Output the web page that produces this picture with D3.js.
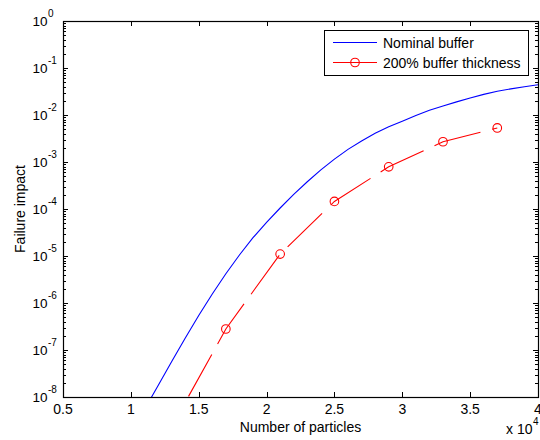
<!DOCTYPE html>
<html>
<head>
<meta charset="utf-8">
<script src="https://cdn.jsdelivr.net/npm/d3@7"></script>
<style>
  html, body { margin: 0; padding: 0; background: #fff; }
  svg { display: block; font-family: "Liberation Sans", Arial, sans-serif; }
</style>
</head>
<body>
<svg id="chart" width="540" height="440"></svg>
<script>
// Failure impact versus number of particles, nominal buffer and 200% buffer.
const nominalParticles = [11000, 12000, 13000, 14000, 15000, 16000, 17000, 18000, 19000, 20000,
  21000, 22000, 23000, 24000, 25000, 26000, 27000, 28000, 29000, 30000,
  31000, 32000, 33000, 34000, 35000, 36000, 37000, 38000, 39000, 40000];
const nominalImpact = [5.4e-9, 1.74e-8, 5.6e-8, 1.78e-7, 5.4e-7, 1.55e-6, 4.2e-6, 1.05e-5, 2.45e-5, 5.2e-5,
  1.05e-4, 2.04e-4, 3.8e-4, 6.8e-4, 1.15e-3, 1.86e-3, 2.8e-3, 4.1e-3, 5.6e-3, 7.4e-3,
  9.8e-3, 1.26e-2, 1.55e-2, 1.9e-2, 2.3e-2, 2.75e-2, 3.2e-2, 3.6e-2, 4.0e-2, 4.4e-2];

const thickParticles = [13000, 17000, 21000, 25000, 29000, 33000, 37000];
const thickImpact = [2.3e-9, 2.8e-7, 1.1e-5, 1.45e-4, 7.9e-4, 2.7e-3, 5.3e-3];

const xTickValues = [5000, 10000, 15000, 20000, 25000, 30000, 35000, 40000];
const xTickLabels = ["0.5", "1", "1.5", "2", "2.5", "3", "3.5", "4"];
const yExponents = [0, -1, -2, -3, -4, -5, -6, -7, -8];
const seriesNames = ["Nominal buffer", "200% buffer thickness"];

const svg = d3.select("#chart");
const plotLeft = 63, plotRight = 538, plotTop = 21, plotBottom = 397;

const x = d3.scaleLinear().domain([5000, 40000]).range([plotLeft, plotRight]);
const y = d3.scaleLog().domain([1e-8, 1]).range([plotBottom, plotTop]);

svg.append("defs").append("clipPath").attr("id", "plotClip")
  .append("rect").attr("x", plotLeft).attr("y", plotTop)
  .attr("width", plotRight - plotLeft).attr("height", plotBottom - plotTop);

// Ticks (inward, on all four sides)
const ticks = svg.append("g").attr("stroke", "#000").attr("stroke-width", 1);
xTickValues.forEach(v => {
  const px = Math.round(x(v)) + 0.5;
  ticks.append("line").attr("x1", px).attr("x2", px).attr("y1", plotBottom).attr("y2", plotBottom - 5);
  ticks.append("line").attr("x1", px).attr("x2", px).attr("y1", plotTop).attr("y2", plotTop + 5);
});
const minorY = [];
for (let e = -8; e < 0; e++) {
  for (let m = 2; m <= 9; m++) minorY.push(m * Math.pow(10, e));
}
yExponents.forEach(e => {
  const py = Math.round(y(Math.pow(10, e))) + 0.5;
  ticks.append("line").attr("x1", plotLeft).attr("x2", plotLeft + 5).attr("y1", py).attr("y2", py);
  ticks.append("line").attr("x1", plotRight).attr("x2", plotRight - 5).attr("y1", py).attr("y2", py);
});
minorY.forEach(v => {
  const py = Math.round(y(v)) + 0.5;
  ticks.append("line").attr("x1", plotLeft).attr("x2", plotLeft + 3).attr("y1", py).attr("y2", py);
  ticks.append("line").attr("x1", plotRight).attr("x2", plotRight - 3).attr("y1", py).attr("y2", py);
});

// Series
const plot = svg.append("g").attr("clip-path", "url(#plotClip)");
const line = d3.line().x(d => x(d[0])).y(d => y(d[1]));

plot.append("path")
  .datum(nominalParticles.map((p, i) => [p, nominalImpact[i]]))
  .attr("d", line)
  .attr("fill", "none").attr("stroke", "#0000ff").attr("stroke-width", 1.1);

const thickData = thickParticles.map((p, i) => [p, thickImpact[i]]);
plot.append("path")
  .datum(thickData)
  .attr("d", line)
  .attr("fill", "none").attr("stroke", "#ff0000").attr("stroke-width", 1.1)
  .attr("stroke-dasharray", "48,12").attr("stroke-dashoffset", 25);

plot.selectAll("circle.m").data(thickData).join("circle")
  .attr("class", "m")
  .attr("cx", d => x(d[0])).attr("cy", d => y(d[1])).attr("r", 4.3)
  .attr("fill", "none").attr("stroke", "#ff0000").attr("stroke-width", 1.1);

// Axes box
svg.append("rect").attr("x", plotLeft + 0.5).attr("y", plotTop + 0.5)
  .attr("width", plotRight - plotLeft).attr("height", plotBottom - plotTop)
  .attr("fill", "none").attr("stroke", "#000").attr("stroke-width", 1.2);

// Tick labels
const labels = svg.append("g").attr("fill", "#000").attr("font-size", 14);
xTickValues.forEach((v, i) => {
  labels.append("text").attr("x", x(v)).attr("y", 414)
    .attr("text-anchor", "middle").text(xTickLabels[i]);
});
yExponents.forEach(e => {
  const py = y(Math.pow(10, e));
  labels.append("text").attr("x", 47.5).attr("y", py + 4.5)
    .attr("font-size", 13.5).attr("text-anchor", "end").text("10");
  labels.append("text").attr("x", 48).attr("y", py - 4)
    .attr("font-size", 10).text(String(e));
});

// Axis titles
labels.append("text").attr("x", (plotLeft + plotRight) / 2).attr("y", 432)
  .attr("text-anchor", "middle").text("Number of particles");
labels.append("text").attr("transform", "translate(25," + ((plotTop + plotBottom) / 2) + ") rotate(-90)")
  .attr("text-anchor", "middle").text("Failure impact");
labels.append("text").attr("x", 506).attr("y", 434).text("x 10");
labels.append("text").attr("x", 533).attr("y", 425).attr("font-size", 10).text("4");

// Legend
const lg = svg.append("g");
lg.append("rect").attr("x", 324.5).attr("y", 30.5).attr("width", 204).attr("height", 45)
  .attr("fill", "#fff").attr("stroke", "#000").attr("stroke-width", 1);
const rowsY = [42.5, 62.5];
const colors = ["#0000ff", "#ff0000"];
seriesNames.forEach((name, i) => {
  lg.append("line").attr("x1", 333).attr("x2", 377).attr("y1", rowsY[i]).attr("y2", rowsY[i])
    .attr("stroke", colors[i]).attr("stroke-width", 1.1);
  if (i === 1) {
    lg.append("circle").attr("cx", 355).attr("cy", rowsY[i]).attr("r", 4.3)
      .attr("fill", "none").attr("stroke", colors[i]).attr("stroke-width", 1.1);
  }
  lg.append("text").attr("x", 383).attr("y", rowsY[i] + 5).attr("font-size", 14)
    .text(name);
});
</script>
</body>
</html>
